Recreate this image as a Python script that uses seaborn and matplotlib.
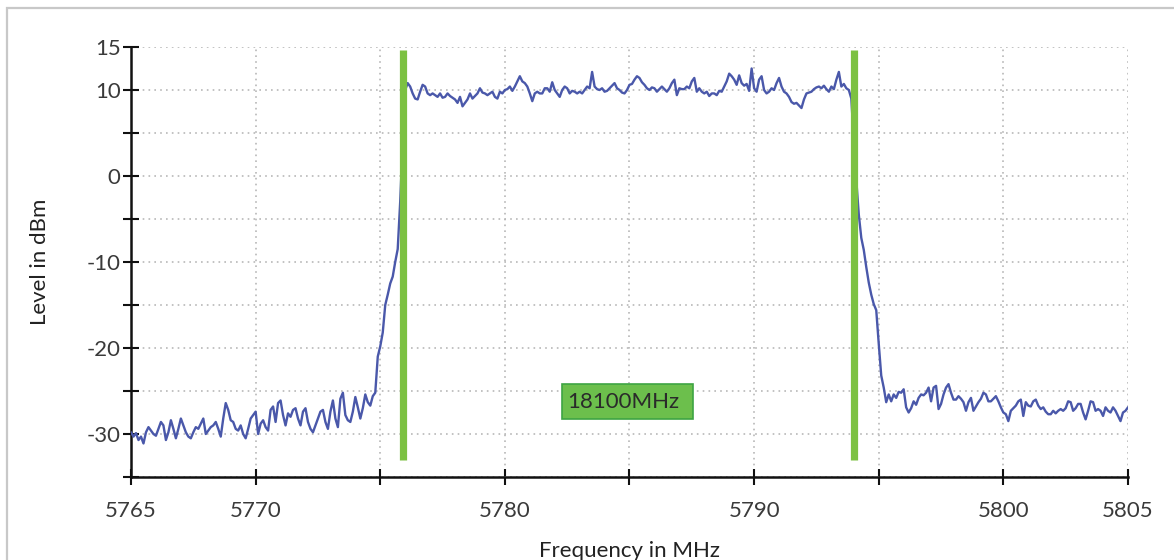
#%% Import
import numpy as np
import matplotlib
matplotlib.use("Agg")
import matplotlib.pyplot as plt
import matplotlib.patches as mpatches
import seaborn as sns

#%% Data (0.1 MHz steps)
freq_start = 5765.0
freq_step = 0.1

level_dbm = [
    -29.8, -30.3, -29.9, -30.7, -30.3, -31.1, -29.8, -29.2, -29.6, -30.0,  # 5765
    -30.2, -29.4, -28.6, -29.0, -30.7, -29.8, -28.4, -29.4, -30.5, -29.4,  # 5766
    -28.2, -29.0, -29.8, -30.3, -30.5, -29.8, -29.2, -29.4, -28.8, -28.2,  # 5767
    -30.0, -29.6, -29.2, -29.0, -28.6, -29.4, -30.3, -28.2, -26.4, -27.2,  # 5768
    -28.4, -28.6, -29.4, -29.6, -29.0, -30.0, -30.5, -29.4, -28.2, -27.8,  # 5769
    -27.4, -30.0, -28.8, -28.4, -29.2, -29.6, -27.2, -26.8, -28.6, -26.4,  # 5770
    -26.1, -27.8, -29.0, -27.6, -28.0, -27.2, -27.0, -28.2, -29.0, -27.4,  # 5771
    -27.0, -28.6, -29.4, -29.8, -29.0, -28.2, -27.4, -27.2, -28.6, -29.4,  # 5772
    -27.4, -26.1, -28.2, -29.2, -25.9, -25.2, -27.8, -28.4, -28.6, -27.4,  # 5773
    -25.7, -26.9, -28.2, -27.0, -25.4, -26.3, -26.7, -25.6, -25.2, -21.0,  # 5774
    -19.8, -18.2, -15.0, -13.8, -12.5, -11.7, -10.0, -8.5, -3.0, 4.0,      # 5775
    10.0, 10.8, 10.4, 9.6, 9.0, 8.9, 9.8, 10.6, 10.4, 9.6,                 # 5776
    9.4, 9.6, 9.4, 9.2, 9.6, 9.1, 9.2, 9.6, 9.3, 9.1,                      # 5777
    8.9, 8.5, 9.2, 8.1, 8.5, 8.9, 9.6, 9.0, 9.3, 9.6,                      # 5778
    10.2, 9.7, 9.6, 9.4, 9.6, 9.8, 9.2, 9.0, 9.8, 9.6,                     # 5779
    10.0, 10.1, 10.4, 9.9, 10.4, 11.0, 11.6, 11.0, 10.8, 10.4,             # 5780
    9.6, 8.7, 9.6, 9.8, 9.6, 9.6, 10.2, 10.2, 9.8, 10.9,                   # 5781
    10.0, 9.6, 9.2, 10.0, 10.4, 10.2, 9.6, 9.9, 9.8, 9.6,                  # 5782
    9.8, 9.6, 10.0, 10.4, 10.2, 12.1, 10.4, 10.1, 10.0, 10.2,              # 5783
    9.8, 9.9, 10.2, 10.5, 10.8, 10.2, 10.0, 9.7, 9.6, 10.0,                # 5784
    10.6, 10.7, 11.2, 11.6, 11.4, 10.9, 10.6, 10.2, 10.0, 10.3,            # 5785
    10.2, 9.8, 10.1, 10.4, 10.1, 9.8, 10.2, 10.8, 11.2, 9.4,               # 5786
    10.2, 10.1, 10.1, 10.4, 10.2, 11.0, 11.4, 9.8, 10.2, 9.8,              # 5787
    9.6, 9.8, 9.3, 9.6, 9.6, 9.4, 9.9, 9.8, 10.4, 11.0,                    # 5788
    11.9, 11.6, 11.2, 10.6, 11.7, 10.8, 10.5, 10.7, 9.9, 12.5,             # 5789
    10.2, 9.8, 11.2, 11.6, 10.0, 9.6, 9.8, 10.2, 10.0, 10.8,               # 5790
    11.4, 10.4, 9.8, 9.6, 9.2, 8.6, 8.4, 8.5, 8.2, 7.9,                    # 5791
    8.9, 9.6, 9.7, 9.8, 10.1, 10.3, 10.4, 10.2, 10.5, 10.1,                # 5792
    9.8, 10.4, 10.1, 11.2, 12.1, 10.4, 10.7, 10.2, 10.0, 9.0,              # 5793
    4.0, -0.5, -4.5, -7.2, -8.6, -10.6, -12.4, -13.8, -14.9, -15.6,        # 5794
    -19.5, -23.2, -24.6, -26.3, -25.4, -26.2, -25.4, -25.8, -25.1, -25.2,  # 5795
    -24.8, -26.9, -27.5, -27.0, -26.2, -26.6, -25.8, -25.4, -25.5, -25.2,  # 5796
    -24.6, -26.2, -24.6, -24.4, -27.1, -26.5, -25.4, -24.6, -24.2, -25.2,  # 5797
    -26.0, -26.0, -25.6, -25.9, -26.3, -27.3, -26.3, -25.8, -27.3, -26.8,  # 5798
    -26.3, -25.9, -25.2, -25.4, -26.2, -26.2, -25.9, -25.6, -26.2, -26.9,  # 5799
    -27.5, -27.7, -28.5, -27.3, -27.0, -26.7, -26.2, -26.0, -27.9, -26.3,  # 5800
    -26.7, -26.8, -26.2, -26.0, -26.7, -27.1, -26.9, -27.4, -27.7, -27.7,  # 5801
    -27.3, -27.6, -27.3, -27.1, -27.3, -27.0, -26.2, -26.3, -27.3, -27.0,  # 5802
    -26.5, -26.5, -27.5, -28.3, -27.3, -26.2, -26.3, -27.3, -27.1, -27.3,  # 5803
    -27.9, -26.9, -27.3, -27.5, -26.9, -27.3, -27.9, -28.5, -27.5, -27.3,  # 5804
    -26.9,                                                                 # 5805
]

marker_freqs = [5775.9, 5794.0]
marker_label = "18100MHz"

x_ticks = [5765, 5770, 5775, 5780, 5785, 5790, 5795, 5800, 5805]
x_tick_labels = ["5765", "5770", "", "5780", "", "5790", "", "5800", "5805"]
y_ticks = [-35, -30, -25, -20, -15, -10, -5, 0, 5, 10, 15]
y_tick_labels = ["", "-30", "", "-20", "", "-10", "", "0", "", "10", "15"]

freq_mhz = freq_start + freq_step * np.arange(len(level_dbm))

#%% Plot
sns.set_style("white")
plt.rcParams["font.family"] = ["Lato", "DejaVu Sans"]

fig = plt.figure(figsize=(11.74, 5.6), dpi=100)
ax = fig.add_axes([0.1116, 0.1482, 0.8492, 0.7679])

# outer light frame
fig.patches.append(mpatches.Rectangle((0.006, -0.1), 1.2, 1.085, transform=fig.transFigure,
                                      fill=False, edgecolor="#c8c8c8", linewidth=1.6))

sns.lineplot(x=freq_mhz, y=level_dbm, ax=ax, color="#4a58aa", linewidth=1.7, zorder=3)

ax.vlines(marker_freqs, -33.0, 14.6, color="#7cc142", linewidth=5.2, zorder=4)

box = mpatches.FancyBboxPatch((5782.3, -28.25), 5.25, 4.1, boxstyle="square,pad=0",
                              facecolor="#6cbf4c", edgecolor="#3ea443", linewidth=1.2, zorder=5)
ax.add_patch(box)
ax.text(5782.5, -26.25, marker_label, fontsize=16, color="#2a2a2a",
        va="center", ha="left", zorder=6, clip_path=box, clip_on=True)

ax.set_xlim(5765, 5805)
ax.set_ylim(-35, 15)
ax.set_xticks(x_ticks)
ax.set_xticklabels(x_tick_labels)
ax.set_yticks(y_ticks)
ax.set_yticklabels(y_tick_labels)

ax.grid(True, linestyle=(0, (1, 2.5)), color="#b8b8b8", linewidth=1.2)
for side in ["top", "right"]:
    ax.spines[side].set_visible(False)
for side in ["left", "bottom"]:
    ax.spines[side].set_color("#111111")
    ax.spines[side].set_linewidth(1.8)

ax.tick_params(axis="both", direction="inout", length=11, width=1.5, color="#111111",
               labelsize=16, labelcolor="#3a3a3a", bottom=True, left=True)
ax.tick_params(axis="x", pad=12)
ax.tick_params(axis="y", pad=2)

ax.set_xlabel("Frequency in MHz", fontsize=16, color="#222222", labelpad=14)
ax.set_ylabel("Level in dBm", fontsize=16, color="#222222", labelpad=26)

plt.savefig("out.png", dpi=100)
plt.close()
